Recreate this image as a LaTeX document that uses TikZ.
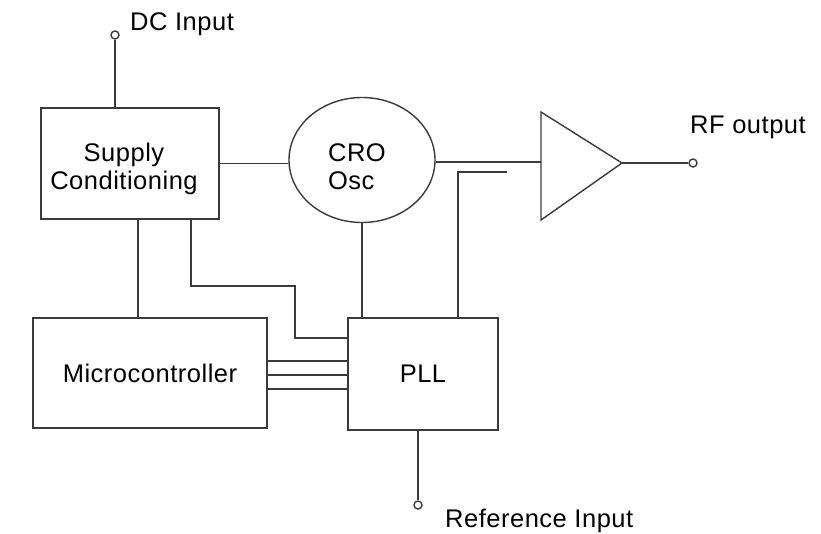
\documentclass[tikz,border=0pt]{standalone}
\usepackage{fontspec}
\setmainfont{Liberation Sans}[LetterSpace=2]
\usetikzlibrary{shapes.geometric,calc}
\definecolor{wire}{HTML}{3A3A3A}
\begin{document}
\begin{tikzpicture}[x=1pt,y=-1pt,
  every node/.style={font=\fontsize{25.5}{28}\selectfont},
  wirestyle/.style={draw=wire,line width=1.4pt},
  blockbox/.style={wirestyle,rectangle,inner sep=0pt,align=center},
  term/.style={wirestyle,circle,fill=white,inner sep=0pt,minimum size=8pt},
  lbl/.style={anchor=base west,inner sep=0pt}]
\useasboundingbox (0,0) rectangle (821,533);
% blocks
\node[blockbox,minimum width=178pt,minimum height=111pt] (supply) at (130,163.5) {};
\node[inner sep=0pt,align=center] (supplytext) at (124,169) {Supply\\Conditioning};
\node[wirestyle,ellipse,minimum width=146pt,minimum height=125pt,inner sep=0pt] (osc) at (362,160) {};
\node[inner sep=0pt,align=left] (osctext) at (357,167) {CRO\\Osc};
\node[blockbox,minimum width=234pt,minimum height=110pt] (micro) at (150,373) {Microcontroller};
\node[blockbox,minimum width=150pt,minimum height=112pt] (pll) at (423,374) {PLL};
% amplifier triangle
\coordinate (ampa) at (541,112);
\coordinate (ampb) at (541,220);
\coordinate (amptip) at (622,163);
\coordinate (ampin) at (541,162);
\draw[wirestyle,line join=miter] (ampa) -- (amptip) -- (ampb) -- cycle;
% terminals
\node[term] (dc) at (115,35) {};
\node[term] (rf) at (693,163) {};
\node[term] (ref) at (418,505) {};
% labels
\node[lbl] (dclbl) at (130,30) {DC Input};
\node[lbl] (rflbl) at (690,133) {RF output};
\node[lbl] (reflbl) at (445,527) {Reference Input};
% connectors
\draw[wirestyle] (dc) -- (dc |- supply.north);
\draw[wirestyle] (supply.east) -- (supply.east -| osc.west);
\draw[wirestyle] (osc.east |- ampin) -- (ampin);
\draw[wirestyle] (amptip) -- (rf);
\coordinate (fbend) at (507,172);
\coordinate (fbcorner) at (458,172);
\draw[wirestyle] (fbend) -- (fbcorner) -- (fbcorner |- pll.north);
\draw[wirestyle] (osc.south) -- (osc.south |- pll.north);
\draw[wirestyle] (supply.south -| 138,0) -- (micro.north -| 138,0);
\coordinate (sbend) at (295,286);
\draw[wirestyle] (supply.south -| 191,0) |- (sbend) |- (pll.west |- 0,338);
\draw[wirestyle] (micro.east |- 0,361) -- (pll.west |- 0,361);
\draw[wirestyle] (micro.east |- 0,375) -- (pll.west |- 0,375);
\draw[wirestyle] (micro.east |- 0,389) -- (pll.west |- 0,389);
\draw[wirestyle] (pll.south -| ref) -- (ref);
\end{tikzpicture}
\end{document}
